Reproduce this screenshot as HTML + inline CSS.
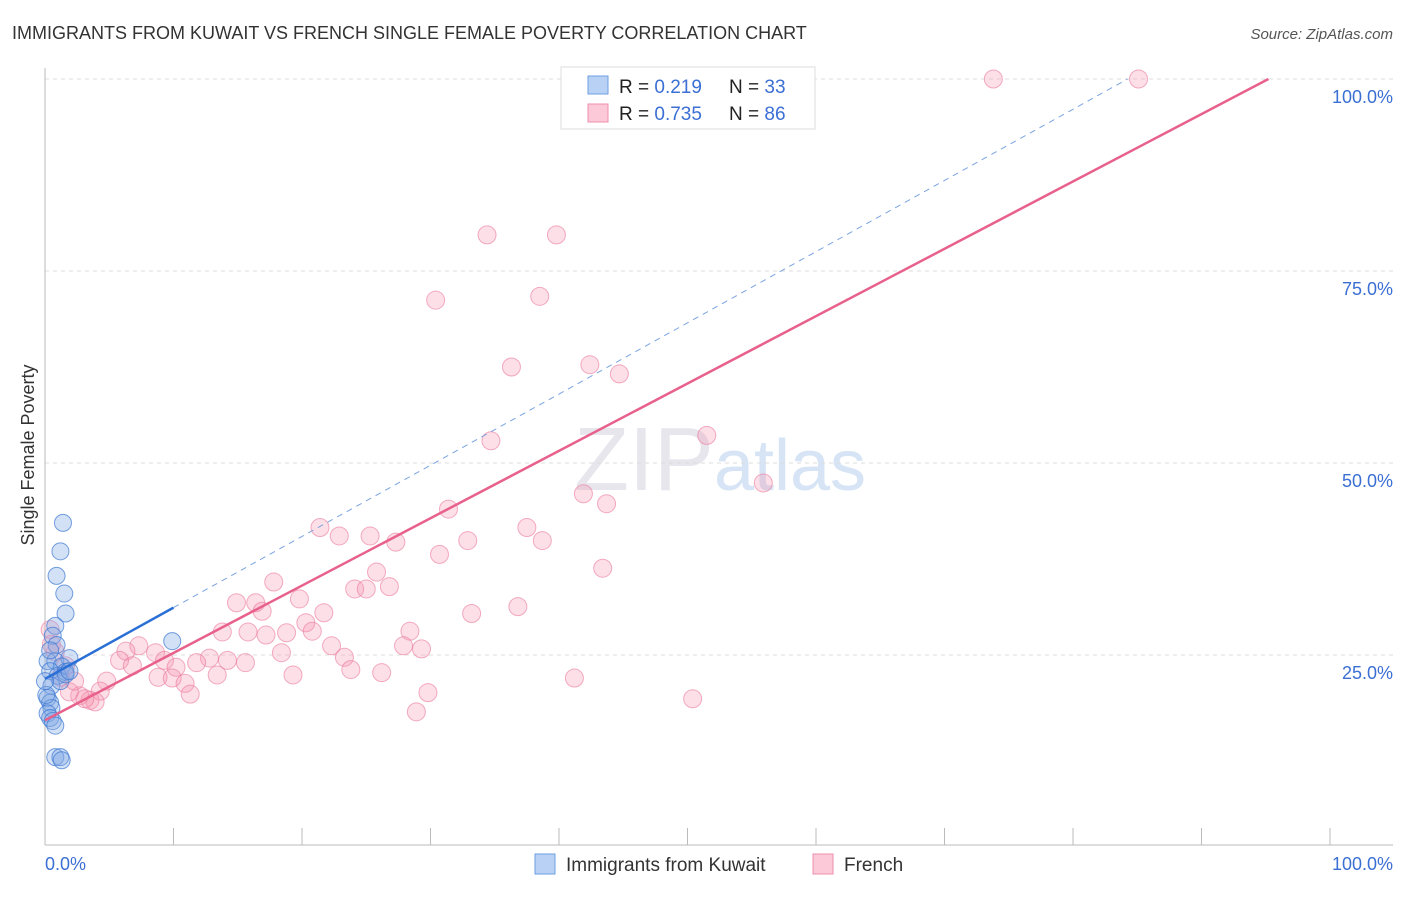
<!DOCTYPE html>
<html><head><meta charset="utf-8"><style>
body{margin:0;background:#fff;font-family:"Liberation Sans",sans-serif}
svg text{font-family:"Liberation Sans",sans-serif}
</style></head><body>
<svg width="1406" height="892">
<text x="12" y="39" font-size="18" fill="#333">IMMIGRANTS FROM KUWAIT VS FRENCH SINGLE FEMALE POVERTY CORRELATION CHART</text>
<text x="1393" y="39" font-size="15" fill="#555" font-style="italic" text-anchor="end">Source: ZipAtlas.com</text>
<text x="720" y="490" font-size="90" fill="#e6e6ec" text-anchor="middle" font-family="Liberation Serif">ZIP<tspan fill="#d6e4f5" font-family="Liberation Sans" font-size="72">atlas</tspan></text>
<g id="grid"></g>
<g id="axes"></g>
<g id="pts"></g>
<g id="lines"></g>
<text transform="translate(34,455) rotate(-90)" font-size="18" fill="#333" text-anchor="middle">Single Female Poverty</text>
<text x="45" y="870" font-size="18" fill="#3b6fd4">0.0%</text>
<text x="1393" y="870" font-size="18" fill="#3b6fd4" text-anchor="end">100.0%</text>
<g>
<rect x="561" y="67" width="254" height="62" fill="#fff" stroke="#ddd"/>
<rect x="588" y="76" width="20" height="18" fill="#b8d1f5" stroke="#6e9ee0"/>
<rect x="588" y="104" width="20" height="18" fill="#fbc9d8" stroke="#ef8fac"/>
<text x="619" y="93" font-size="19" fill="#222">R = <tspan fill="#3b6fd4">0.219</tspan><tspan x="729">N = </tspan><tspan fill="#3b6fd4">33</tspan></text>
<text x="619" y="120" font-size="19" fill="#222">R = <tspan fill="#3b6fd4">0.735</tspan><tspan x="729">N = </tspan><tspan fill="#3b6fd4">86</tspan></text>
</g>
<g>
<rect x="535" y="854" width="20" height="20" fill="#b8d1f5" stroke="#6e9ee0"/>
<text x="566" y="871" font-size="19" fill="#333">Immigrants from Kuwait</text>
<rect x="813" y="854" width="20" height="20" fill="#fbc9d8" stroke="#ef8fac"/>
<text x="844" y="871" font-size="19" fill="#333">French</text>
</g>
</svg>
<script>
const yTicks=[25,50,75,100];
const yTickLabels=["25.0%","50.0%","75.0%","100.0%"];
const xTicks=[0,10,20,30,40,50,60,70,80,90,100];
const kuwaitX=[1.4,1.2,0.9,1.5,1.6,0.8,0.6,9.9,0.2,0.8,1.9,1.3,0.4,1.0,0.5,1.6,0.2,0.4,0.5,0.2,0.4,0.6,0.8,0.1,1.2,0.8,1.2,1.3,0.9,0.4,1.6,0.0,1.9];
const kuwaitY=[42.2,38.5,35.3,33.0,30.4,28.8,27.5,26.8,24.2,24.2,24.6,23.5,22.9,22.3,21.0,22.8,19.4,18.8,18.1,17.4,16.8,16.4,15.8,19.8,21.6,11.7,11.7,11.3,26.3,25.6,22.5,21.6,22.9];
const frenchX=[41.0,46.5,73.8,85.1,34.4,39.8,30.4,38.5,36.3,42.4,44.7,34.7,51.5,55.9,41.9,43.7,31.4,21.4,22.9,25.3,27.3,37.5,38.7,32.9,30.7,43.4,25.8,17.8,24.1,25.0,26.8,14.9,16.4,16.9,19.8,21.7,33.2,36.8,20.3,20.8,28.4,13.8,15.8,17.2,18.8,22.3,27.9,29.3,18.4,7.3,8.6,6.3,12.8,15.6,14.2,23.3,23.8,26.2,19.3,41.2,5.8,6.8,9.3,10.2,11.8,8.8,9.9,10.9,13.4,4.8,4.3,11.3,29.8,28.9,50.4,3.5,2.7,1.9,1.2,0.8,0.4,2.3,3.9,3.1,1.6,0.5];
const frenchY=[100,100,100,100,79.7,79.7,71.2,71.7,62.5,62.8,61.6,52.9,53.6,47.4,46.0,44.7,44.0,41.6,40.5,40.5,39.7,41.6,39.9,39.9,38.1,36.3,35.8,34.5,33.6,33.6,33.9,31.8,31.8,30.7,32.3,30.5,30.4,31.3,29.2,28.1,28.1,28.0,28.0,27.6,27.9,26.2,26.2,25.8,25.3,26.2,25.3,25.5,24.6,24.0,24.3,24.7,23.1,22.7,22.4,22.0,24.3,23.6,24.3,23.4,24.0,22.1,22.0,21.3,22.4,21.6,20.3,19.9,20.1,17.6,19.3,19.1,19.7,20.2,22.1,25.4,28.3,21.6,18.9,19.3,23.6,26.4];
const kuwaitFit=[21.9,0.927];
const frenchFit=[16.5,0.877];
const X=v=>45+v*12.85, Y=v=>847-v*7.68;
const NS="http://www.w3.org/2000/svg";
function mk(t,a,p){const e=document.createElementNS(NS,t);for(const k in a)e.setAttribute(k,a[k]);p.appendChild(e);return e;}
const grid=document.getElementById('grid'),axes=document.getElementById('axes'),pts=document.getElementById('pts'),lines=document.getElementById('lines');
yTicks.forEach((t,i)=>{
 const l=mk('line',{x1:45,x2:1393,y1:Y(t),y2:Y(t),stroke:'#ddd','stroke-dasharray':'4,4'},grid);
 
 
 const tx=mk('text',{x:1393,y:Y(t)+24,'font-size':18,fill:'#3b6fd4','text-anchor':'end'},grid);
 tx.textContent=yTickLabels[i];
 
 
});
const ax=mk('line',{x1:45,x2:1393,y1:845,y2:845,stroke:'#bbb'},axes);


const ay=mk('line',{x1:45,x2:45,y1:68,y2:845,stroke:'#bbb'},axes);


xTicks.forEach(t=>{
 const l=mk('line',{x1:X(t),x2:X(t),y1:828,y2:845,stroke:'#bbb'},axes);
 
 
});
frenchX.forEach((x,i)=>{
 const c=mk('circle',{cx:X(x),cy:Y(frenchY[i]),r:9,fill:'rgba(244,150,175,0.3)',stroke:'rgba(235,120,155,0.6)','stroke-width':1},pts);
 
 
});
kuwaitX.forEach((x,i)=>{
 const c=mk('circle',{cx:X(x),cy:Y(kuwaitY[i]),r:8.5,fill:'rgba(130,170,230,0.35)',stroke:'rgba(60,120,210,0.7)','stroke-width':1},pts);
 
 
});
const kEnd=10;
const kl=mk('line',{x1:X(0),y1:Y(kuwaitFit[0]),x2:X(kEnd),y2:Y(kuwaitFit[0]+kuwaitFit[1]*kEnd),stroke:'#2a6fd6','stroke-width':2.5},lines);


const kx2=(100-kuwaitFit[0])/kuwaitFit[1];
const kd=mk('line',{x1:X(kEnd),y1:Y(kuwaitFit[0]+kuwaitFit[1]*kEnd),x2:X(kx2),y2:Y(100),stroke:'#7aa3e0','stroke-width':1,'stroke-dasharray':'6,5'},lines);


const fx2=(100-frenchFit[0])/frenchFit[1];
const fl=mk('line',{x1:X(0),y1:Y(frenchFit[0]),x2:X(fx2),y2:Y(100),stroke:'#e8608c','stroke-width':2.5},lines);


</script>
</body></html>
